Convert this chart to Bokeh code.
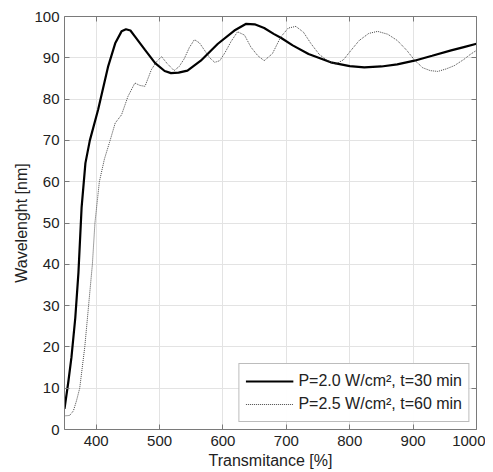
from bokeh.plotting import figure
from bokeh.embed import file_html
from bokeh.resources import INLINE
from bokeh.models import Range1d, LinearAxis, FixedTicker, Legend, LegendItem

# Series 1: P=2.0 W/cm2, t=30 min
x1 = [350, 356, 361, 367, 372, 377, 383, 390, 403, 419, 430, 440, 447, 454, 461, 477, 493,
      508, 518, 530, 544, 565, 592, 618, 636, 650, 665, 680, 692, 710, 735, 770, 800,
      823, 850, 875, 902, 930, 960, 980, 1000]
y1 = [5, 11.5, 17.5, 27, 38, 53.8, 64.5, 70, 77.4, 88, 93.5, 96.4, 96.9, 96.6, 95.2, 91.9, 88.7,
      86.8, 86.3, 86.4, 86.9, 89.3, 93.4, 96.6, 98.2, 98.1, 97.2, 95.8, 94.8, 93, 90.9, 88.9, 88,
      87.7, 87.9, 88.4, 89.3, 90.5, 91.8, 92.6, 93.4]

# Series 2: P=2.5 W/cm2, t=60 min
x2 = [350, 358, 364, 369, 374, 378, 382, 388, 394, 398, 405, 413, 421, 430, 440, 450, 461, 469, 477,
      487, 495, 503, 512, 523, 531, 539, 547, 555, 563, 571, 579, 587, 595, 603, 613, 623, 634,
      644, 655, 665, 678, 691, 703, 715, 727, 739, 752, 765, 778, 790, 802, 815, 830, 844, 860,
      875, 890, 902, 915, 927, 939, 952, 965, 980, 990, 1000]
y2 = [3.3, 3.4, 4.5, 7, 10, 15, 20, 30, 40, 50, 60, 65.5, 69.5, 74.2, 76.2, 80.6, 83.9, 83.3, 83.1,
      87.1, 89, 90.3, 88.6, 86.9, 87.9, 89.8, 92.5, 94.4, 93.6, 91.8, 90, 88.9, 89.3, 91.2, 94, 96.3, 95.5,
      92.6, 90.5, 89.3, 91, 95, 97.2, 97.6, 96.2, 93.4, 90.8, 89.3, 88.5, 89.5, 91.8, 94.2, 95.9, 96.4, 95.7,
      94.2, 91.8, 89.5, 87.6, 86.9, 86.7, 87.3, 88.1, 89.6, 90.8, 91.8]

x_ticks = [400, 500, 600, 700, 800, 900, 1000]
y_ticks = [0, 10, 20, 30, 40, 50, 60, 70, 80, 90, 100]
label1 = "P=2.0 W/cm\u00b2, t=30 min"
label2 = "P=2.5 W/cm\u00b2, t=60 min"

FONT = "Liberation Sans"
AX_COLOR = "#7a7a7a"
TXT = "#222222"

p = figure(width=485, height=472, output_backend="svg", toolbar_location=None,
           x_range=Range1d(350, 1000), y_range=Range1d(0, 100),
           min_border_left=64, min_border_right=9, min_border_top=16, min_border_bottom=43)

p.xaxis.ticker = FixedTicker(ticks=x_ticks)
p.yaxis.ticker = FixedTicker(ticks=y_ticks)
p.xaxis.axis_label = "Transmitance [%]"
p.yaxis.axis_label = "Wavelenght [nm]"

for ax in [p.xaxis[0], p.yaxis[0]]:
    ax.axis_line_color = AX_COLOR
    ax.major_tick_line_color = AX_COLOR
    ax.major_tick_in = 5
    ax.major_tick_out = 0
    ax.minor_tick_line_color = None
    ax.major_label_text_font = FONT
    ax.major_label_text_font_size = "15px"
    ax.major_label_text_color = TXT
    ax.axis_label_text_font = FONT
    ax.axis_label_text_font_size = "16px"
    ax.axis_label_text_font_style = "normal"
    ax.axis_label_text_color = TXT
p.xaxis.major_label_standoff = 6
p.xaxis.axis_label_standoff = 3
p.yaxis.major_label_standoff = 5
p.yaxis.axis_label_standoff = 1

ax_top = LinearAxis(ticker=FixedTicker(ticks=x_ticks), major_label_text_font_size="0px",
                    axis_line_color=AX_COLOR, major_tick_line_color=AX_COLOR,
                    major_tick_in=5, major_tick_out=0, minor_tick_line_color=None,
                    major_label_standoff=0)
ax_right = LinearAxis(ticker=FixedTicker(ticks=y_ticks), major_label_text_font_size="0px",
                      axis_line_color=AX_COLOR, major_tick_line_color=AX_COLOR,
                      major_tick_in=5, major_tick_out=0, minor_tick_line_color=None,
                      major_label_standoff=0)
p.add_layout(ax_top, "above")
p.add_layout(ax_right, "right")

p.xgrid.grid_line_color = "#e3e3e3"
p.ygrid.grid_line_color = "#e3e3e3"
p.outline_line_color = None

r1 = p.line(x1, y1, line_color="black", line_width=2.2)
r2 = p.line(x2, y2, line_color="#333333", line_width=0.9, line_dash="1 1")

legend = Legend(items=[LegendItem(label=label1, renderers=[r1]),
                       LegendItem(label=label2, renderers=[r2])],
                location="bottom_right")
legend.label_text_font = FONT
legend.label_text_font_size = "16px"
legend.label_text_color = TXT
legend.glyph_width = 48
legend.label_height = 22
legend.glyph_height = 22
legend.spacing = 1
legend.padding = 6
legend.margin = 7
legend.border_line_color = AX_COLOR
legend.border_line_width = 1
legend.label_standoff = 5
p.add_layout(legend, "center")

open("out.html", "w").write(file_html(p, INLINE))
